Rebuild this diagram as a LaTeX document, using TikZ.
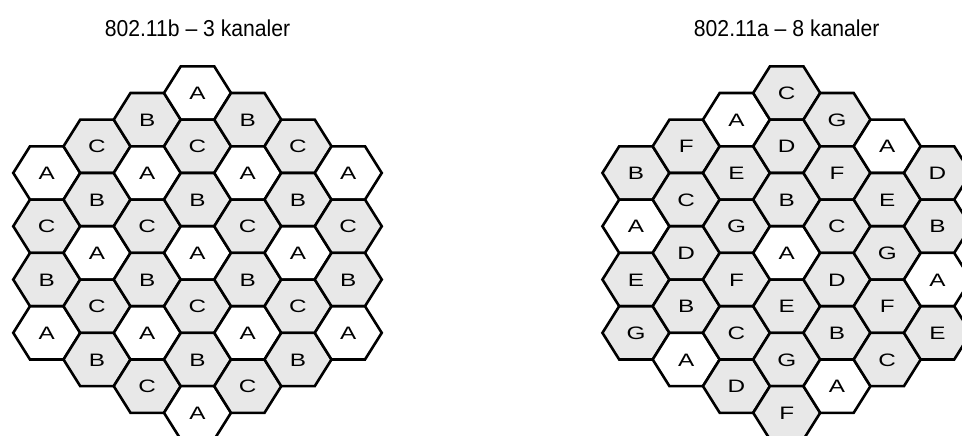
\documentclass[tikz,border=0pt]{standalone}
\usepackage{fontspec}
\setmainfont{Liberation Sans}
\newfontfamily\cellfont[FakeStretch=1.35]{Liberation Sans}
\newfontfamily\titlefont[FakeStretch=0.92]{Liberation Sans}
\definecolor{cellgray}{RGB}{232,232,232}
\tikzset{
  hexline/.style={draw=black, line width=2.6pt, line join=miter},
  celllabel/.style={font=\cellfont\fontsize{18}{18}\selectfont, inner sep=0pt},
  titlelabel/.style={font=\titlefont\fontsize{23}{24}\selectfont, inner sep=0pt}
}
\begin{document}
\begin{tikzpicture}[x=1pt,y=1pt]
\path[use as bounding box] (0,0) rectangle (962,-436);
\clip (0,0) rectangle (962,-436);
\def\ha{33.5}
\def\hb{16.75}
\def\hh{26.65}
% grid: #1 prefix, #2 centre x, #3 list
\newcommand\hexgrid[3]{%
  \foreach \k/\s/\labs in {#3} {
    \foreach \L [count=\i from 0] in \labs {
      \pgfmathsetmacro\cx{#2+50.25*\k}
      \pgfmathsetmacro\cy{-(93+\hh*(\s+2*\i))}
      \if\L A\def\fc{white}\else\def\fc{cellgray}\fi
      \filldraw[hexline, fill=\fc]
        ({\cx-\ha},{\cy}) -- ({\cx-\hb},{\cy+\hh}) -- ({\cx+\hb},{\cy+\hh})
        -- ({\cx+\ha},{\cy}) -- ({\cx+\hb},{\cy-\hh}) -- ({\cx-\hb},{\cy-\hh}) -- cycle;
      \node[celllabel] (#1c\k r\i) at (\cx,{\cy-0.5}) {\L};
    }
  }
}
\hexgrid{L}{197.5}{-3/3/{A,C,B,A}, -2/2/{C,B,A,C,B}, -1/1/{B,A,C,B,A,C}, 0/0/{A,C,B,A,C,B,A}, 1/1/{B,A,C,B,A,C}, 2/2/{C,B,A,C,B}, 3/3/{A,C,B,A}}
\hexgrid{R}{786.7}{-3/3/{B,A,E,G}, -2/2/{F,C,D,B,A}, -1/1/{A,E,G,F,C,D}, 0/0/{C,D,B,A,E,G,F}, 1/1/{G,F,C,D,B,A}, 2/2/{A,E,G,F,C}, 3/3/{D,B,A,E}}
\node[titlelabel] (titleL) at (197.5,-28) {802.11b \textendash{} 3 kanaler};
\node[titlelabel] (titleR) at (786.7,-28) {802.11a \textendash{} 8 kanaler};
\end{tikzpicture}
\end{document}
